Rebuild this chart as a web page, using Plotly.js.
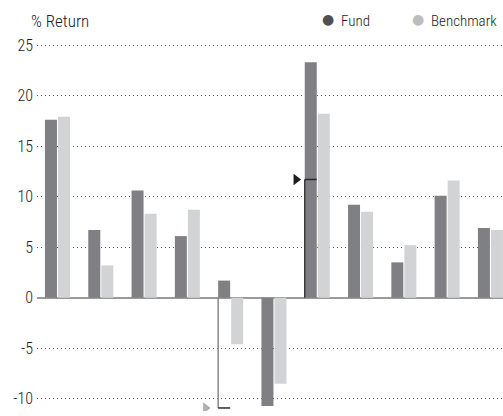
<!DOCTYPE html>
<html>
<head>
<meta charset="utf-8">
<script src="https://cdn.plot.ly/plotly-3.0.1.min.js"></script>
<style>html,body{margin:0;padding:0;background:#fff;}#chart{width:503px;height:416px;}</style>
</head>
<body>
<div id="chart"></div>
<script>
// Data
const categories = ['1','2','3','4','5','6','7','8','9','10','11'];
const fundValues = [17.6, 6.7, 10.6, 6.1, 1.7, -10.7, 23.3, 9.2, 3.5, 10.1, 6.9];
const benchmarkValues = [17.9, 3.2, 8.3, 8.7, -4.6, -8.5, 18.2, 8.5, 5.2, 11.6, 6.7];
const yTicks = [-10, -5, 0, 5, 10, 15, 20, 25];
const seriesNames = ['Fund', 'Benchmark'];
// bracket markers: group index and value
const markerGroups = [6, 4];
const markerValues = [11.7, -10.9];

const FONT = '"Liberation Sans Narrow", "Roboto Condensed", Roboto, sans-serif';
const xIdx = categories.map((c, i) => i);
const barW = 0.277, fundOff = -0.289, benchOff = 0.012;

const traces = [
  {type: 'bar', x: xIdx, y: fundValues, name: seriesNames[0], width: barW, offset: fundOff,
   marker: {color: '#808084'}, showlegend: false, hoverinfo: 'y'},
  {type: 'bar', x: xIdx, y: benchmarkValues, name: seriesNames[1], width: barW, offset: benchOff,
   marker: {color: '#d2d3d5'}, showlegend: false, hoverinfo: 'y'},
  {type: 'scatter', mode: 'markers',
   x: markerGroups.map((g, i) => g + fundOff - (i === 0 ? 0.2 : 0.29)),
   y: markerValues,
   marker: {symbol: 'triangle-right', size: 10, color: ['#1e1e1e', '#b0b0b0']},
   showlegend: false, hoverinfo: 'skip'}
];

const shapes = [];
markerGroups.forEach((g, i) => {
  const xl = g + fundOff;
  shapes.push({type: 'line', xref: 'x', yref: 'y', x0: xl, x1: xl, y0: 0, y1: markerValues[i],
    line: {color: i === 0 ? '#3a3a3a' : '#8a8a8a', width: 1.5}});
  shapes.push({type: 'line', xref: 'x', yref: 'y', x0: xl, x1: xl + barW, y0: markerValues[i], y1: markerValues[i],
    line: {color: '#2a2a2a', width: 1.5}});
});

const annotations = [
  {xref: 'paper', yref: 'paper', x: -0.018, y: 1.06, xanchor: 'left', yanchor: 'middle',
   text: '% Return', showarrow: false, font: {family: FONT, size: 17, color: '#222', weight: 300}},
  {xref: 'paper', yref: 'paper', x: (328 - 37) / 466, y: 1.065, xanchor: 'center', yanchor: 'middle',
   text: '●', showarrow: false, font: {family: 'DejaVu Sans', size: 14, color: '#505050'}},
  {xref: 'paper', yref: 'paper', x: (339 - 37) / 466, y: 1.06, xanchor: 'left', yanchor: 'middle',
   text: seriesNames[0], showarrow: false, font: {family: FONT, size: 15, color: '#222', weight: 300}},
  {xref: 'paper', yref: 'paper', x: (418 - 37) / 466, y: 1.065, xanchor: 'center', yanchor: 'middle',
   text: '●', showarrow: false, font: {family: 'DejaVu Sans', size: 14, color: '#bcbcbc'}},
  {xref: 'paper', yref: 'paper', x: (429 - 37) / 466, y: 1.06, xanchor: 'left', yanchor: 'middle',
   text: seriesNames[1], showarrow: false, font: {family: FONT, size: 15, color: '#222', weight: 300}}
];

const layout = {
  width: 503, height: 416,
  margin: {l: 37, r: 0, t: 43, b: 5, pad: 0},
  paper_bgcolor: '#fff', plot_bgcolor: '#fff',
  barmode: 'overlay',
  font: {family: FONT, size: 16, color: '#222'},
  xaxis: {range: [-0.473, 10.29], showticklabels: false, showgrid: false, zeroline: false,
          showline: false, ticks: '', fixedrange: true},
  yaxis: {range: [-11.2, 25.2], tickvals: yTicks, ticktext: yTicks.map(String),
          showgrid: true, gridcolor: '#555', gridwidth: 1, griddash: '1px,3px',
          zeroline: true, zerolinecolor: '#9a9a9a', zerolinewidth: 2.5,
          showline: false, ticks: '', ticklabelstandoff: 3,
          tickfont: {family: FONT, size: 16, color: '#222', weight: 300}, fixedrange: true},
  shapes: shapes,
  annotations: annotations
};

Plotly.newPlot('chart', traces, layout, {displayModeBar: false, staticPlot: true});
</script>
</body>
</html>
